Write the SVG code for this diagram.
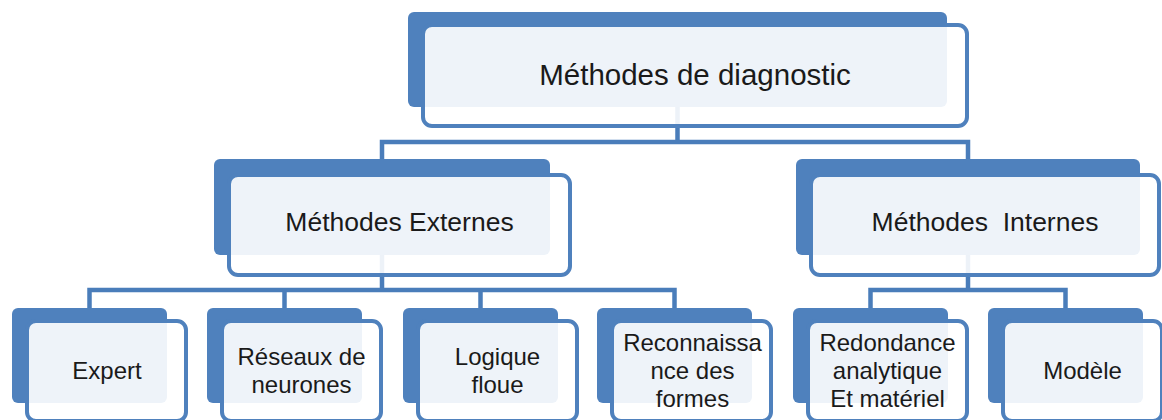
<svg xmlns="http://www.w3.org/2000/svg" width="1162" height="420" viewBox="0 0 1162 420">
<style>
.back{fill:#4F81BD;}
.front{fill:#ffffff;fill-opacity:0.9;stroke:#4F81BD;stroke-width:4;}
.conn{fill:none;stroke:#4A7DBA;stroke-width:4.5;stroke-linejoin:miter;}
.t{font-family:"Liberation Sans",Arial,sans-serif;fill:#1a1a1a;text-anchor:middle;}
.t1{font-size:29.5px;}
.t2{font-size:26.5px;}
.t3{font-size:24px;}
</style>
<rect width="1162" height="420" fill="#ffffff"/>
<g id="connectors">
<path class="conn" d="M677.5 107 V142 M382 159 V142 H968 V159"/>
<path class="conn" d="M382 255 V290 M89.5 308 V290 H674.5 V308 M284.5 290 V308 M480.5 290 V308"/>
<path class="conn" d="M968 255 V290 M870.5 308 V290 H1065.5 V308"/>
</g>
<g id="node-diagnostic">
<rect class="back" x="408" y="12" width="539" height="95" rx="6"/>
<rect class="front" x="423" y="25" width="544" height="101" rx="9"/>
<text class="t t1" x="695" y="85">Méthodes de diagnostic</text>
</g>
<g id="node-externes">
<rect class="back" x="214" y="159" width="336" height="96" rx="6"/>
<rect class="front" x="229" y="175" width="341" height="100" rx="9"/>
<text class="t t2" x="399.5" y="231">Méthodes Externes</text>
</g>
<g id="node-internes">
<rect class="back" x="796" y="159" width="344" height="96" rx="6"/>
<rect class="front" x="811" y="175" width="348" height="100" rx="9"/>
<text class="t t2" x="985" y="231" xml:space="preserve">Méthodes  Internes</text>
</g>
<g id="node-expert">
<rect class="back" x="12" y="308" width="155" height="95" rx="6"/>
<rect class="front" x="27" y="321" width="159" height="100" rx="9"/>
<text class="t t3" x="107" y="379">Expert</text>
</g>
<g id="node-reseaux">
<rect class="back" x="207" y="308" width="155" height="95" rx="6"/>
<rect class="front" x="222" y="321" width="159" height="100" rx="9"/>
<text class="t t3" x="301.5" y="365">Réseaux de</text>
<text class="t t3" x="301.5" y="393">neurones</text>
</g>
<g id="node-logique">
<rect class="back" x="403" y="308" width="155" height="95" rx="6"/>
<rect class="front" x="418" y="321" width="159" height="100" rx="9"/>
<text class="t t3" x="497.5" y="365">Logique</text>
<text class="t t3" x="497.5" y="393">floue</text>
</g>
<g id="node-reconnaissance">
<rect class="back" x="597" y="308" width="155" height="95" rx="6"/>
<rect class="front" x="612" y="321" width="159" height="100" rx="9"/>
<text class="t t3" x="692.5" y="351">Reconnaissa</text>
<text class="t t3" x="692.5" y="379">nce des</text>
<text class="t t3" x="692.5" y="407">formes</text>
</g>
<g id="node-redondance">
<rect class="back" x="793" y="308" width="155" height="95" rx="6"/>
<rect class="front" x="808" y="321" width="159" height="100" rx="9"/>
<text class="t t3" x="887.5" y="351">Redondance</text>
<text class="t t3" x="887.5" y="379">analytique</text>
<text class="t t3" x="887.5" y="407">Et matériel</text>
</g>
<g id="node-modele">
<rect class="back" x="988" y="308" width="155" height="95" rx="6"/>
<rect class="front" x="1003" y="321" width="159" height="100" rx="9"/>
<text class="t t3" x="1082.5" y="379">Modèle</text>
</g>
</svg>
